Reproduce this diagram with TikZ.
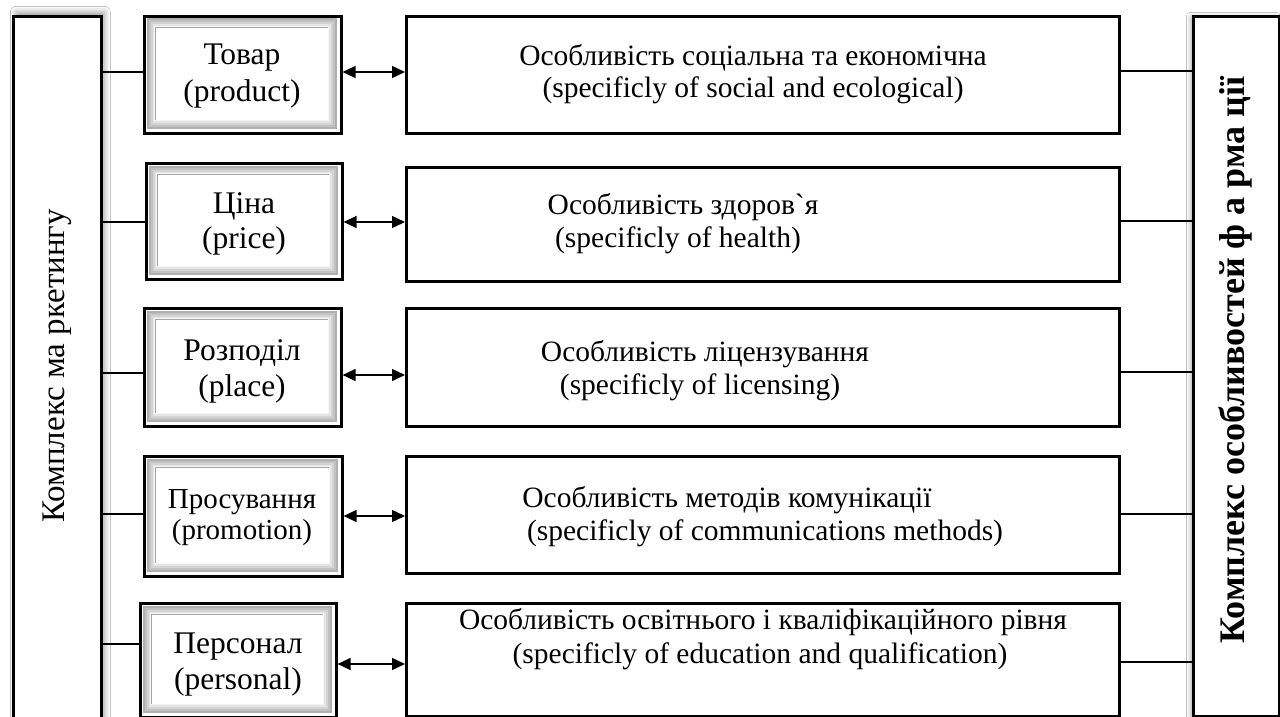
\documentclass[tikz,border=0pt]{standalone}
\usepackage{fontspec}
\setmainfont{Liberation Serif}[Ligatures=TeXOff]
\usetikzlibrary{arrows.meta,shadows.blur}
\newcommand\bevelbox[5]{%
  \fill[white] (#2+1,#3+1) rectangle (#4-1,#5-1);
  \fill[gray!62] (#2+3.5,#3+3.5) rectangle (#4-3.5,#5-3.5);
  \fill[gray!48] (#2+5.5,#3+5.5) rectangle (#4-5.5,#5-5.5);
  \fill[gray!34] (#2+7.5,#3+7.5) rectangle (#4-7.5,#5-7.5);
  \fill[gray!20] (#2+9.5,#3+9.5) rectangle (#4-9.5,#5-9.5);
  \fill[gray!8] (#2+11,#3+11) rectangle (#4-11,#5-11);
  \fill[white] (#2+12.5,#3+12.5) rectangle (#4-12.5,#5-12.5);
  \draw[gray!70,line width=1.2pt] (#2+12.5,#5-12.5) -- (#2+12.5,#3+12.5) -- (#4-12.5,#3+12.5);
  \node[frame,anchor=north west,minimum width=#4-#2,minimum height=#5-#3,inner sep=0pt] (#1) at (#2,#3) {};
}
\begin{document}
\begin{tikzpicture}[x=1pt,y=-1pt,
  frame/.style={draw=black,line width=2.6pt},
  conn/.style={line width=1.1pt},
  dbl/.style={line width=1.4pt,{Triangle[length=13pt,width=12pt]}-{Triangle[length=13pt,width=12pt]}},
  btext/.style={font=\fontsize{31.5}{36}\selectfont,anchor=base,inner sep=0pt},
  ctext/.style={font=\fontsize{29}{33}\selectfont,anchor=base,inner sep=0pt},
  rtext/.style={font=\fontsize{29.5}{33}\selectfont,anchor=base,inner sep=0pt}]
\useasboundingbox (0,0) rectangle (1280,717);
\fill[white] (0,0) rectangle (1280,717);
\clip (0,0) rectangle (1280,717);

% left tall box
\node[frame,fill=white,anchor=north west,minimum width=88,minimum height=740,inner sep=0pt,
  blur shadow={shadow xshift=3pt,shadow yshift=4pt,shadow blur radius=6pt,shadow opacity=40}] (L) at (12,15) {};
\node[rotate=90,font=\fontsize{33}{36}\selectfont] (lt) at (L.center |- 0,366) {Комплекс ма ркетингу};

% right tall box
\node[frame,fill=white,anchor=north west,minimum width=86,minimum height=700,inner sep=0pt,
  blur shadow={shadow xshift=-3pt,shadow yshift=0pt,shadow blur radius=4pt,shadow opacity=30}] (RT) at (1192,15) {};
\node[rotate=90,font=\fontsize{36}{40}\selectfont\bfseries] (rt) at (1235,360) {Комплекс особливостей ф а рма ції};

% bevel boxes
\bevelbox{B1}{143}{15}{340}{132}
\bevelbox{B2}{145}{162}{341}{278}
\bevelbox{B3}{143}{307}{340}{425}
\bevelbox{B4}{143}{455}{341}{575}
\bevelbox{B5}{139}{602}{335}{716}

\node[btext] (b1a) at (242,65) {Товар};
\node[btext] (b1b) at (242,102) {(product)};
\node[btext] (b2a) at (244,213) {Ціна};
\node[btext] (b2b) at (244,248) {(price)};
\node[btext] (b3a) at (242,360) {Розподіл};
\node[btext] (b3b) at (242,396) {(place)};
\node[ctext] (b4a) at (242,508) {Просування};
\node[ctext] (b4b) at (242,539) {(promotion)};
\node[btext] (b5a) at (238,653) {Персонал};
\node[btext] (b5b) at (238,689) {(personal)};

% right boxes
\node[frame,anchor=north west,minimum width=713,minimum height=117,inner sep=0pt] (R1) at (405,15) {};
\node[frame,anchor=north west,minimum width=713,minimum height=114,inner sep=0pt] (R2) at (405,166) {};
\node[frame,anchor=north west,minimum width=713,minimum height=118,inner sep=0pt] (R3) at (405,307) {};
\node[frame,anchor=north west,minimum width=713,minimum height=117,inner sep=0pt] (R4) at (405,455) {};
\node[frame,anchor=north west,minimum width=713,minimum height=113,inner sep=0pt] (R5) at (405,602) {};

\node[rtext] (r1a) at (753,66) {Особливість соціальна та економічна};
\node[rtext] (r1b) at (753,98) {(specificly of social and ecological)};
\node[rtext] (r2a) at (683,214) {Особливість здоров`я};
\node[rtext] (r2b) at (678,247) {(specificly of health)};
\node[rtext] (r3a) at (705,361) {Особливість ліцензування};
\node[rtext] (r3b) at (700,394) {(specificly of licensing)};
\node[rtext] (r4a) at (727,507) {Особливість методів комунікації};
\node[rtext] (r4b) at (765,540) {(specificly of communications methods)};
\node[rtext] (r5a) at (763,629) {Особливість освітнього і кваліфікаційного рівня};
\node[rtext] (r5b) at (760,663) {(specificly of education and qualification)};

% connector levels
\coordinate (c1) at (0,72);
\coordinate (c2) at (0,222);
\coordinate (c3) at (0,373);
\coordinate (c4) at (0,514);
\coordinate (c5) at (0,644);
\coordinate (a1) at (0,72);
\coordinate (a2) at (0,222);
\coordinate (a3) at (0,375);
\coordinate (a4) at (0,516);
\coordinate (a5) at (0,664);
\coordinate (d1) at (0,71);
\coordinate (d2) at (0,221);
\coordinate (d3) at (0,372);
\coordinate (d4) at (0,514);
\coordinate (d5) at (0,662);

\foreach \i in {1,...,5} {
  \draw[conn] (L.east |- c\i) -- (B\i.west |- c\i);
  \draw[dbl] (B\i.east |- a\i) -- (R\i.west |- a\i);
  \draw[conn] (R\i.east |- d\i) -- (RT.west |- d\i);
}
\end{tikzpicture}
\end{document}
